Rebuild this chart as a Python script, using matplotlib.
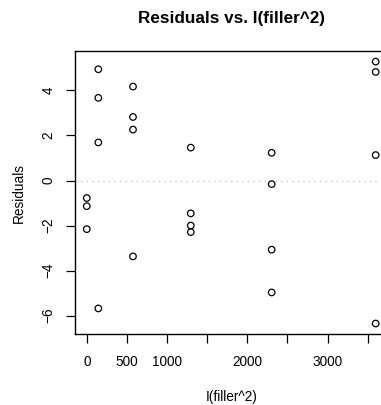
import matplotlib
matplotlib.use("Agg")
import matplotlib.pyplot as plt
import numpy as np

plt.rcParams['font.family'] = ['Liberation Sans', 'DejaVu Sans']

x_vals = [0, 0, 0,
          144, 144, 144, 144,
          576, 576, 576, 576,
          1296, 1296, 1296, 1296,
          2304, 2304, 2304, 2304,
          3600, 3600, 3600, 3600]
residuals = [-0.78, -1.14, -2.16,
             4.94, 3.67, 1.69, -5.68,
             4.17, 2.82, 2.26, -3.37,
             1.46, -1.46, -2.00, -2.29,
             1.23, -0.16, -3.07, -4.97,
             5.28, 4.82, 1.13, -6.35]
x_ticks = [0, 500, 1000, 1500, 2000, 2500, 3000, 3500]
x_tick_labels = ['0', '500', '1000', '', '2000', '', '3000', '']
y_ticks = [-6, -4, -2, 0, 2, 4]
y_tick_labels = ['\u22126', '\u22124', '\u22122', '0', '2', '4']

fig = plt.figure(figsize=(3.81, 4.05), dpi=100)
ax = fig.add_axes([0.1974, 0.1753, 0.819, 0.6985])

ax.scatter(x_vals, residuals, s=22, facecolors='none', edgecolors='black', linewidths=0.9, zorder=3)
ax.axhline(0, color='#c8c8c8', linestyle=(0, (1, 3)), linewidth=1.0, zorder=1)

xmin, xmax = min(x_vals), max(x_vals)
ymin, ymax = min(residuals), max(residuals)
xr = xmax - xmin
yr = ymax - ymin
ax.set_xlim(xmin - 0.04 * xr, xmax + 0.04 * xr)
ax.set_ylim(ymin - 0.04 * yr, ymax + 0.04 * yr)

ax.set_xticks(x_ticks)
ax.set_xticklabels(x_tick_labels)
ax.set_yticks(y_ticks)
ax.set_yticklabels(y_tick_labels, rotation=90, va='center')
ax.tick_params(axis='both', direction='out', length=6.5, width=0.9, labelsize=9.8, colors='black')
ax.tick_params(axis='x', pad=8.5)
ax.tick_params(axis='y', pad=7.5)
for s in ax.spines.values():
    s.set_linewidth(1.0)
    s.set_color('black')

ax.set_xlabel('I(filler^2)', fontsize=9.8, labelpad=15)
ax.set_ylabel('Residuals', fontsize=9.8, labelpad=11.5)
fig.text(0.607, 0.955, 'Residuals vs. I(filler^2)', fontsize=12.3, fontweight='bold',
         ha='center', va='center')

fig.savefig('out.png', dpi=100)
